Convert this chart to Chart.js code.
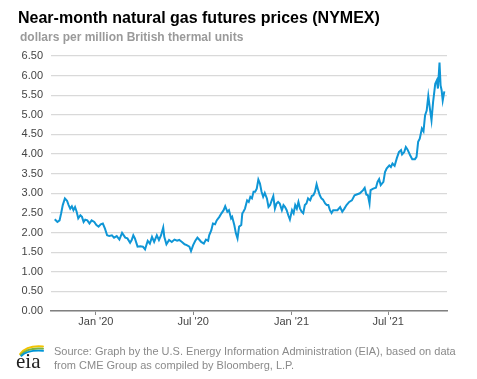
<!DOCTYPE html>
<html>
<head>
<meta charset="utf-8">
<script src="https://cdn.jsdelivr.net/npm/chart.js@4.4.1/dist/chart.umd.min.js"></script>
<style>
html,body{margin:0;padding:0;background:#fff;}
#wrap{position:relative;width:477px;height:379px;}
</style>
</head>
<body>
<div id="wrap"><canvas id="c" width="477" height="379"></canvas></div>
<script>
const titleText = "Near-month natural gas futures prices (NYMEX)";
const subtitleText = "dollars per million British thermal units";
const sourceLines = [
  "Source: Graph by the U.S. Energy Information Administration (EIA), based on data",
  "from CME Group as compiled by Bloomberg, L.P."
];
const tickDates = ["2020-01-01", "2020-07-01", "2021-01-01", "2021-07-01"];
const tickLabels = ["Jan '20", "Jul '20", "Jan '21", "Jul '21"];
const xRange = ["2019-10-09", "2021-10-19"];

const dates = [
"2019-10-16","2019-10-21","2019-10-25","2019-10-28","2019-10-31","2019-11-04","2019-11-08","2019-11-11","2019-11-14","2019-11-17",
"2019-11-20","2019-11-23","2019-11-26","2019-11-29","2019-12-03","2019-12-06","2019-12-09","2019-12-12","2019-12-16","2019-12-20",
"2019-12-24","2019-12-29","2020-01-02","2020-01-06","2020-01-10","2020-01-14","2020-01-18","2020-01-22","2020-01-26","2020-01-31",
"2020-02-04","2020-02-09","2020-02-14","2020-02-19","2020-02-25","2020-02-29","2020-03-05","2020-03-08","2020-03-11","2020-03-14",
"2020-03-19","2020-03-24","2020-03-29","2020-04-02","2020-04-07","2020-04-11","2020-04-15","2020-04-19","2020-04-24","2020-04-28",
"2020-05-02","2020-05-06","2020-05-08","2020-05-12","2020-05-17","2020-05-22","2020-05-27","2020-06-01","2020-06-05","2020-06-10",
"2020-06-15","2020-06-19","2020-06-24","2020-06-27","2020-07-01","2020-07-05","2020-07-09","2020-07-13","2020-07-16","2020-07-21",
"2020-07-25","2020-07-29","2020-07-31","2020-08-04","2020-08-07","2020-08-11","2020-08-14","2020-08-19","2020-08-23","2020-08-27",
"2020-08-30","2020-09-03","2020-09-06","2020-09-10","2020-09-12","2020-09-16","2020-09-19","2020-09-22","2020-09-25","2020-09-29",
"2020-10-01","2020-10-03","2020-10-06","2020-10-10","2020-10-13","2020-10-16","2020-10-19","2020-10-22","2020-10-25","2020-10-28",
"2020-10-31","2020-11-03","2020-11-06","2020-11-09","2020-11-12","2020-11-16","2020-11-19","2020-11-22","2020-11-25","2020-11-28",
"2020-12-01","2020-12-04","2020-12-07","2020-12-10","2020-12-14","2020-12-17","2020-12-20","2020-12-23","2020-12-26","2020-12-29",
"2021-01-02","2021-01-05","2021-01-08","2021-01-11","2021-01-14","2021-01-17","2021-01-20","2021-01-23","2021-01-26","2021-01-29",
"2021-02-01","2021-02-05","2021-02-08","2021-02-11","2021-02-14","2021-02-17","2021-02-20","2021-02-23","2021-02-26","2021-03-01",
"2021-03-05","2021-03-08","2021-03-11","2021-03-14","2021-03-17","2021-03-20","2021-03-23","2021-03-28","2021-04-02","2021-04-06",
"2021-04-10","2021-04-14","2021-04-19","2021-04-24","2021-04-29","2021-05-03","2021-05-09","2021-05-15","2021-05-18","2021-05-21",
"2021-05-24","2021-05-27","2021-05-29","2021-06-03","2021-06-08","2021-06-11","2021-06-14","2021-06-17","2021-06-22","2021-06-25",
"2021-06-28","2021-07-03","2021-07-06","2021-07-09","2021-07-13","2021-07-17","2021-07-21","2021-07-25","2021-07-27","2021-07-31",
"2021-08-03","2021-08-06","2021-08-11","2021-08-15","2021-08-20","2021-08-23","2021-08-26","2021-08-29","2021-09-02","2021-09-05",
"2021-09-08","2021-09-11","2021-09-14","2021-09-17","2021-09-20","2021-09-23","2021-09-27","2021-09-30","2021-10-02","2021-10-05",
"2021-10-07","2021-10-09","2021-10-11","2021-10-14"
];
const prices = [
2.34,2.27,2.31,2.49,2.70,2.87,2.81,2.70,2.61,2.67,
2.57,2.65,2.53,2.36,2.44,2.40,2.27,2.33,2.31,2.23,
2.31,2.27,2.19,2.15,2.21,2.23,2.10,1.93,1.91,1.93,
1.87,1.91,1.82,1.99,1.87,1.85,1.74,1.81,1.93,1.85,
1.64,1.65,1.64,1.57,1.79,1.72,1.89,1.76,1.93,1.81,
1.93,2.13,1.89,1.70,1.81,1.76,1.82,1.79,1.81,1.76,
1.70,1.68,1.64,1.53,1.68,1.79,1.87,1.81,1.76,1.72,
1.82,1.79,1.93,2.06,2.23,2.21,2.31,2.40,2.49,2.57,
2.67,2.53,2.57,2.36,2.40,2.19,1.98,1.85,2.15,2.19,
2.49,2.53,2.61,2.82,2.78,2.91,2.87,3.04,3.04,3.12,
3.35,3.25,3.04,2.91,3.01,2.87,2.65,2.70,2.82,2.93,
2.61,2.74,2.78,2.74,2.57,2.70,2.65,2.57,2.44,2.33,
2.57,2.49,2.70,2.61,2.78,2.61,2.53,2.49,2.70,2.74,
2.87,2.82,2.93,2.95,3.04,3.23,3.08,2.95,2.87,2.84,
2.74,2.70,2.70,2.57,2.50,2.57,2.57,2.57,2.65,2.53,
2.61,2.70,2.78,2.82,2.95,2.97,3.00,3.08,3.14,2.97,
2.95,2.74,3.08,3.12,3.14,3.29,3.36,3.21,3.29,3.54,
3.63,3.71,3.67,3.76,3.70,3.89,4.05,4.10,3.99,4.05,
4.18,4.12,3.97,3.87,3.87,3.93,4.31,4.39,4.65,4.58,
4.99,5.11,5.48,5.16,4.86,5.33,5.79,5.88,5.67,6.33,
5.75,5.62,5.37,5.60
];

function ts(s){ const p = s.split("-").map(Number); return Date.UTC(p[0], p[1]-1, p[2]); }
const points = dates.map((d,i)=>({x: ts(d), y: prices[i]}));
const tickValues = tickDates.map(ts);

const textPlugin = {
  id: "texts",
  afterDraw(chart){
    const ctx = chart.ctx;
    ctx.save();
    ctx.textBaseline = "alphabetic";
    ctx.textAlign = "left";
    ctx.fillStyle = "#000";
    ctx.font = "bold 16px 'Liberation Sans', Arial, sans-serif";
    ctx.fillText(titleText, 18, 23);
    ctx.fillStyle = "#9a9a9a";
    ctx.font = "bold 12px 'Liberation Sans', Arial, sans-serif";
    ctx.fillText(subtitleText, 20, 41);
    ctx.fillStyle = "#8a8a8a";
    ctx.font = "11px 'Liberation Sans', Arial, sans-serif";
    ctx.fillText(sourceLines[0], 54, 354.5);
    ctx.fillText(sourceLines[1], 54, 369);
    // eia logo swooshes
    ctx.lineCap = "round";
    const arcs = [["#f2c300", 0], ["#7cb342", 2.4], ["#0096d7", 4.8]];
    arcs.forEach(a=>{
      ctx.strokeStyle = a[0];
      ctx.lineWidth = 1.9;
      ctx.beginPath();
      ctx.moveTo(20 + a[1]*0.3, 354 + a[1]*0.4);
      ctx.quadraticCurveTo(27, 345 + a[1], 43, 346.5 + a[1]*0.9);
      ctx.stroke();
    });
    ctx.fillStyle = "#222";
    ctx.font = "21px 'Liberation Serif', 'DejaVu Serif', serif";
    ctx.fillText("eia", 16, 368);
    ctx.restore();
  }
};

new Chart(document.getElementById("c"), {
  type: "line",
  data: { datasets: [{
    data: points,
    borderColor: "#0f96d6",
    borderWidth: 2,
    pointRadius: 0,
    tension: 0,
    fill: false
  }]},
  options: {
    responsive: false,
    animation: false,
    events: [],
    layout: { padding: { left: 17, right: 30, top: 56, bottom: 0 } },
    plugins: { legend: { display: false }, tooltip: { enabled: false } },
    scales: {
      x: {
        type: "linear",
        min: ts(xRange[0]),
        max: ts(xRange[1]),
        afterBuildTicks(scale){ scale.ticks = tickValues.map(v=>({value: v})); },
        afterFit(scale){ scale.height = 68; },
        ticks: {
          autoSkip: false,
          maxRotation: 0,
          padding: 0,
          color: "#444",
          font: { size: 11, family: "'Liberation Sans', Arial, sans-serif" },
          callback(v){ const i = tickValues.indexOf(v); return i >= 0 ? tickLabels[i] : ""; }
        },
        grid: { drawOnChartArea: false, drawTicks: true, tickLength: 4, color: "#888", lineWidth: 1 },
        border: { display: true, color: "#808080", width: 1.5 }
      },
      y: {
        min: 0,
        max: 6.5,
        afterFit(scale){ scale.width = 34; },
        ticks: {
          stepSize: 0.5,
          padding: 8,
          color: "#444",
          font: { size: 11, family: "'Liberation Sans', Arial, sans-serif" },
          callback(v){ return v.toFixed(2); }
        },
        grid: { color: "#d9d9d9", lineWidth: 1.3, drawTicks: false },
        border: { display: false }
      }
    }
  },
  plugins: [textPlugin]
});
</script>
</body>
</html>
